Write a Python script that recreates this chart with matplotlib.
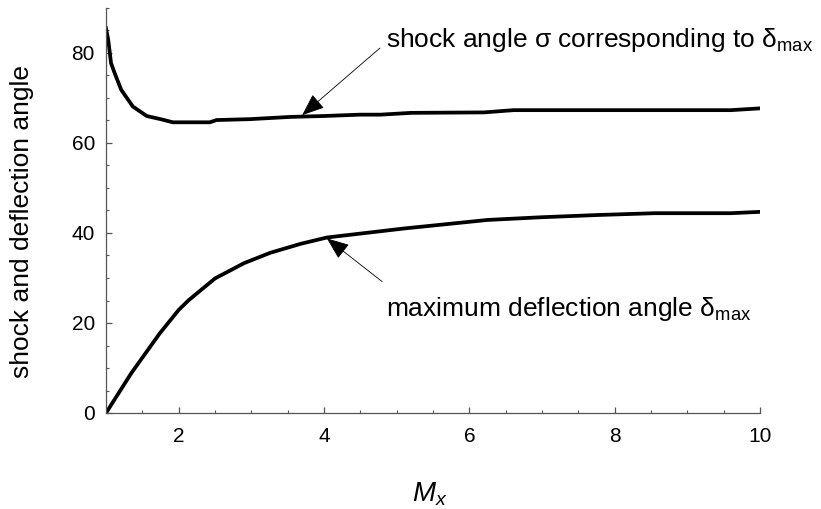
import matplotlib
matplotlib.use('Agg')
import matplotlib.pyplot as plt
from matplotlib.ticker import MultipleLocator

plt.rcParams['font.family'] = ['Liberation Sans', 'DejaVu Sans']
plt.rcParams['mathtext.fontset'] = 'custom'
plt.rcParams['mathtext.rm'] = 'Liberation Sans'
plt.rcParams['mathtext.it'] = 'Liberation Sans:italic'

# shock angle sigma at delta_max
mach_shock = [1.0, 1.03, 1.07, 1.12, 1.21, 1.37, 1.56, 1.75, 1.92, 2.43, 2.52,
              2.98, 3.54, 4.0, 4.5, 4.78, 5.2, 6.2, 6.61, 9.6, 10.0]
sigma = [85.5, 83.0, 77.7, 75.5, 71.8, 68.1, 66.0, 65.3, 64.6, 64.6, 65.1,
         65.3, 65.8, 66.0, 66.3, 66.3, 66.7, 66.8, 67.3, 67.3, 67.7]

# maximum deflection angle delta_max
mach_defl = [1.0, 1.35, 1.74, 2.0, 2.14, 2.5, 2.9, 3.26, 3.68, 4.04, 5.1,
             6.25, 6.99, 7.77, 8.55, 9.6, 10.0]
delta = [0.0, 8.9, 17.7, 22.9, 25.1, 29.9, 33.3, 35.6, 37.6, 39.0, 41.0,
         42.9, 43.5, 44.0, 44.4, 44.4, 44.7]

x_ticks = [2, 4, 6, 8, 10]
y_ticks = [0, 20, 40, 60, 80]


def main():
    fig = plt.figure(figsize=(8.21, 5.09), dpi=100)
    ax = fig.add_axes([106 / 821, 96 / 509, 654 / 821, 405 / 509])

    ax.plot(mach_shock, sigma, color='black', lw=2.7, solid_joinstyle='round')
    ax.plot(mach_defl, delta, color='black', lw=2.7, solid_joinstyle='round')

    ax.set_xlim(1, 10)
    ax.set_ylim(0, 90)
    ax.set_xticks(x_ticks)
    ax.set_yticks(y_ticks)
    ax.xaxis.set_minor_locator(MultipleLocator(0.5))
    ax.yaxis.set_minor_locator(MultipleLocator(5))
    for s in ['top', 'right']:
        ax.spines[s].set_visible(False)
    for s in ['left', 'bottom']:
        ax.spines[s].set_color('#555555')
        ax.spines[s].set_linewidth(0.9)
    ax.tick_params(which='both', direction='in', color='#555555', labelsize=15)
    ax.tick_params(which='major', length=4, width=0.9)
    ax.tick_params(which='minor', length=2.5, width=0.8)
    ax.tick_params(axis='x', pad=10)
    ax.tick_params(axis='y', pad=8)

    fig.text(430 / 821, 1 - 502 / 509, '$M_x$', fontsize=20,
             ha='center', va='baseline')
    fig.text(22 / 821, 1 - 222 / 509, 'shock and deflection angle', fontsize=19,
             rotation=90, ha='center', va='center')

    arrow = dict(arrowstyle='-|>,head_length=0.7,head_width=0.28', color='black',
                 lw=0.6, mutation_scale=20, shrinkA=0, shrinkB=0)
    ax.annotate('', xy=(3.70, 66.2), xytext=(4.77, 81.1), arrowprops=arrow)
    ax.text(4.857, 81.4, 'shock angle σ corresponding to $\\mathregular{δ_{max}}$',
            fontsize=19, va='baseline', ha='left')
    ax.annotate('', xy=(4.04, 38.8), xytext=(4.80, 29.2), arrowprops=arrow)
    ax.text(4.857, 21.5, 'maximum deflection angle $\\mathregular{δ_{max}}$',
            fontsize=19, va='baseline', ha='left')

    fig.savefig('out.png', dpi=100)


if __name__ == '__main__':
    main()
